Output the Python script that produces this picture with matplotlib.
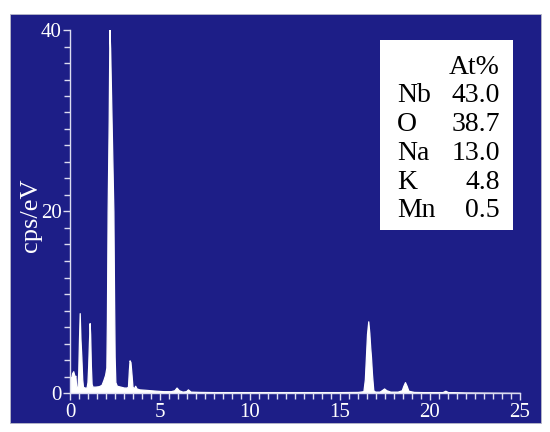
import matplotlib
matplotlib.use("Agg")
import matplotlib.pyplot as plt
from matplotlib.patches import Rectangle
from matplotlib.ticker import MultipleLocator

# EDS spectrum (keV, cps/eV)
energy = [0.00, 0.05, 0.12, 0.18, 0.22, 0.26, 0.30, 0.34, 0.38, 0.42, 0.46, 0.50, 0.54, 0.58,
          0.63, 0.68, 0.72, 0.80, 0.92, 0.97, 1.01, 1.05, 1.09, 1.12, 1.16, 1.20, 1.25,
          1.40, 1.60, 1.75, 1.85, 1.95, 2.02, 2.05, 2.09, 2.15, 2.19, 2.23, 2.31, 2.41,
          2.45, 2.48, 2.52, 2.60, 2.80, 3.00, 3.15, 3.22, 3.27, 3.31, 3.36, 3.42, 3.47,
          3.55, 3.62, 3.70, 3.85, 4.20, 4.50, 4.80, 5.20, 5.60, 5.80, 5.92, 6.05, 6.25,
          6.45, 6.55, 6.70, 7.20, 8.00, 9.00, 10.0, 11.0, 12.0, 13.0, 14.0, 15.0, 16.0,
          16.30, 16.38, 16.44, 16.50, 16.57, 16.63, 16.68, 16.72, 16.78, 16.85, 16.95,
          17.20, 17.35, 17.45, 17.58, 17.80, 18.20, 18.43, 18.52, 18.61, 18.70, 18.80,
          19.10, 19.60, 20.20, 20.70, 20.85, 21.00, 22.0, 25.0]
cps = [1.8, 1.5, 2.2, 2.4, 2.1, 1.8, 1.9, 0.8, 0.5, 0.7, 2.5, 6.0, 8.8, 6.0,
       4.0, 1.5, 0.7, 0.6, 0.6, 1.2, 3.0, 5.5, 7.7, 6.5, 3.0, 1.0, 0.7,
       0.7, 0.75, 0.9, 1.4, 2.0, 2.8, 8.0, 20.0, 30.0, 40.2, 38.0, 30.0, 20.0,
       10.0, 4.0, 1.2, 0.8, 0.7, 0.6, 0.6, 0.7, 2.5, 3.6, 3.4, 2.0, 0.7,
       0.5, 0.8, 0.5, 0.4, 0.35, 0.3, 0.25, 0.2, 0.2, 0.3, 0.6, 0.3, 0.15,
       0.2, 0.4, 0.15, 0.12, 0.1, 0.1, 0.1, 0.1, 0.1, 0.1, 0.1, 0.1, 0.12,
       0.2, 1.5, 4.0, 6.5, 7.9, 6.6, 5.0, 4.0, 2.0, 0.3, 0.15,
       0.15, 0.35, 0.5, 0.3, 0.15, 0.15, 0.3, 0.8, 1.2, 0.8, 0.25,
       0.12, 0.1, 0.1, 0.1, 0.25, 0.1, 0.05, 0.0]

elements = ["Nb", "O", "Na", "K", "Mn"]
at_pct = ["43.0", "38.7", "13.0", "4.8", "0.5"]

x_ticks = [0, 5, 10, 15, 20, 25]
y_ticks = [0, 20, 40]

BLUE = "#1d1e87"
SERIF = ["Liberation Serif", "DejaVu Serif"]

fig = plt.figure(figsize=(5.5, 4.32), dpi=100)
fig.patch.set_facecolor("white")
fig.add_artist(Rectangle((10 / 550, 1 - 423 / 432), 531 / 550, 409 / 432,
                         transform=fig.transFigure, facecolor=BLUE,
                         edgecolor="#b8b8c8", linewidth=0.6, zorder=0))

ax = fig.add_axes([70 / 550, 1 - 393 / 432, 450 / 550, 363 / 432])
ax.set_facecolor("none")
ax.fill_between(energy, 0, cps, color="white", linewidth=0.9, edgecolor="white")
ax.set_xlim(0, 25)
ax.set_ylim(0, 40)

for s in ["top", "right"]:
    ax.spines[s].set_visible(False)
for s in ["left", "bottom"]:
    ax.spines[s].set_color("#dcdcf0")
    ax.spines[s].set_linewidth(1.0)

ax.set_xticks(x_ticks)
ax.set_yticks(y_ticks)
ax.xaxis.set_minor_locator(MultipleLocator(0.5))
ax.yaxis.set_minor_locator(MultipleLocator(20 / 11))
ax.tick_params(which="both", direction="out", color="#dcdcf0", width=1.0,
               labelcolor="white", labelsize=15)
ax.tick_params(which="major", length=5)
ax.tick_params(which="minor", length=4)
ax.tick_params(axis="x", pad=2)
ax.tick_params(axis="y", pad=1)
for lab in ax.get_xticklabels() + ax.get_yticklabels():
    lab.set_family(SERIF)

fig.text(31 / 550, 1 - 215 / 432, "cps/eV", rotation=90, color="white",
         fontsize=19, family=SERIF, ha="center", va="center")

# composition box
fig.add_artist(Rectangle((380 / 550, 1 - 230 / 432), 133 / 550, 190 / 432,
                         transform=fig.transFigure, facecolor="white",
                         edgecolor="none", zorder=3))
fig.text(500 / 550, 1 - 67 / 432, "At%", fontsize=20, family=SERIF,
         ha="right", va="center", zorder=4)
for i, (el, v) in enumerate(zip(elements, at_pct)):
    y = 1 - (96 + 28.7 * i) / 432
    fig.text(397 / 550, y, el, fontsize=20, family=SERIF, ha="left",
             va="center", zorder=4)
    fig.text(500 / 550, y, v, fontsize=20, family=SERIF, ha="right",
             va="center", zorder=4)

fig.savefig("out.png", dpi=100)
